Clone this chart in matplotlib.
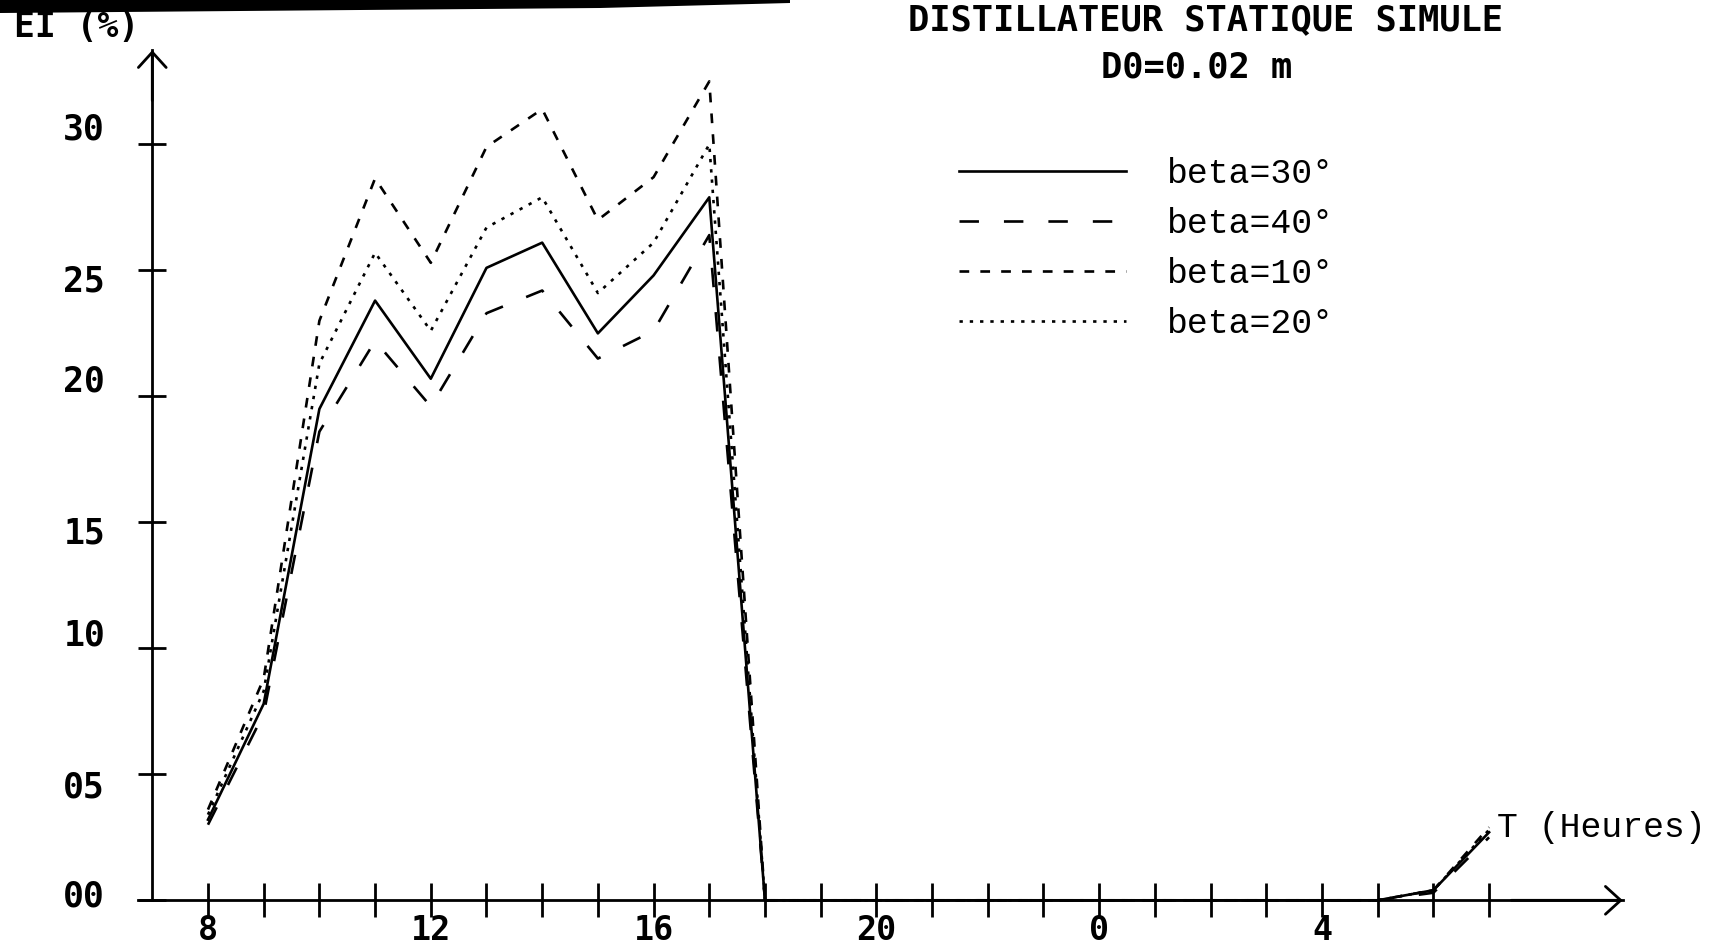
import matplotlib
matplotlib.use("Agg")
import matplotlib.pyplot as plt
from matplotlib.patches import Polygon
from matplotlib.transforms import ScaledTranslation

plt.rcParams['lines.scale_dashes'] = False
plt.rcParams['font.family'] = ['DejaVu Sans Mono', 'DejaVu Sans']
plt.rcParams['font.weight'] = 'bold'

# ---- data: hourly efficiency (%) from 8h to 7h next morning ----
hours = [8, 9, 10, 11, 12, 13, 14, 15, 16, 17, 18, 19, 20, 21, 22, 23,
         24, 25, 26, 27, 28, 29, 30, 31]
beta30 = [3.2, 7.8, 19.5, 23.8, 20.7, 25.1, 26.1, 22.5, 24.8, 27.9, 0.0, 0.0,
          0.0, 0.0, 0.0, 0.0, 0.0, 0.0, 0.0, 0.0, 0.0, 0.0, 0.4, 2.7]
beta40 = [3.0, 7.4, 18.6, 22.2, 19.6, 23.3, 24.2, 21.5, 22.6, 26.4, 0.0, 0.0,
          0.0, 0.0, 0.0, 0.0, 0.0, 0.0, 0.0, 0.0, 0.0, 0.0, 0.3, 2.5]
beta10 = [3.6, 8.8, 23.0, 28.65, 25.3, 29.9, 31.4, 27.0, 28.7, 32.5, 0.0, 0.0,
          0.0, 0.0, 0.0, 0.0, 0.0, 0.0, 0.0, 0.0, 0.0, 0.0, 0.4, 2.9]
beta20 = [3.4, 8.3, 21.3, 25.7, 22.6, 26.7, 27.9, 24.1, 26.1, 30.0, 0.0, 0.0,
          0.0, 0.0, 0.0, 0.0, 0.0, 0.0, 0.0, 0.0, 0.0, 0.0, 0.4, 2.8]
series_labels = ['beta=30°', 'beta=40°', 'beta=10°', 'beta=20°']

x_label_hours = [8, 12, 16, 20, 24, 28]
x_label_text = ['8', '12', '16', '20', '0', '4']
y_ticks = [0, 5, 10, 15, 20, 25, 30]
y_tick_text = ['00', '05', '10', '15', '20', '25', '30']

title = 'DISTILLATEUR STATIQUE SIMULE'
subtitle = 'D0=0.02 m'
y_name = 'EI (%)'
x_name = 'T (Heures)'

# ---- figure ----
W, H, DPI = 1710, 947, 100
fig = plt.figure(figsize=(W / DPI, H / DPI), dpi=DPI, facecolor='white')
ax = fig.add_axes([0, 0, 1, 1])
ax.patch.set_visible(False)
ax.set_xlim(4.266, 34.966)
ax.set_ylim(-1.853, 35.73)

styles = [
    dict(linestyle='-'),
    dict(linestyle=(0, (14, 18))),
    dict(linestyle=(0, (7, 8))),
    dict(linestyle=(0, (2.4, 5))),
]
data = [beta30, beta40, beta10, beta20]
handles = []
for vals, st, lab in zip(data, styles, series_labels):
    ln, = ax.plot(hours, vals, color='black', lw=1.9, label=lab, **st)
    handles.append(ln)

# ---- axes drawn as arrows through the origin ----
x_axis_start, x_axis_end = 6.75, 33.4
y_axis_x, y_axis_top = 7, 33.74
for side in ['top', 'right']:
    ax.spines[side].set_visible(False)
ax.spines['left'].set_position(('data', y_axis_x))
ax.spines['left'].set_bounds(0, y_axis_top)
ax.spines['bottom'].set_position(('data', 0))
ax.spines['bottom'].set_bounds(x_axis_start, x_axis_end)
for side in ['left', 'bottom']:
    ax.spines[side].set_linewidth(2.0)

arrow_kw = dict(arrowstyle='->,head_length=0.55,head_width=0.5', lw=2.0,
                color='black', shrinkA=0, shrinkB=0, mutation_scale=20)
ax.annotate('', xy=(y_axis_x, y_axis_top), xytext=(y_axis_x, y_axis_top - 2),
            arrowprops=arrow_kw)
ax.annotate('', xy=(x_axis_end, 0), xytext=(x_axis_end - 2, 0),
            arrowprops=arrow_kw)

# ---- ticks ----
ax.set_xticks(hours)
ax.set_xticklabels([x_label_text[x_label_hours.index(h)] if h in x_label_hours else ''
                    for h in hours])
ax.tick_params(axis='x', direction='inout', length=24, width=2.0, pad=-2,
               labelsize=24)
ax.set_yticks(y_ticks)
ax.set_yticklabels(y_tick_text)
ax.tick_params(axis='y', direction='inout', length=20, width=2.0, pad=24,
               labelsize=25)
# plotter-style vertical placement of the y labels (pixels, up positive)
y_label_shift = [7, -10, 16, -8, 18, -8, 18]
for lbl, dy in zip(ax.get_yticklabels(), y_label_shift):
    lbl.set_transform(lbl.get_transform() + ScaledTranslation(0, dy / DPI, fig.dpi_scale_trans))

# ---- texts ----
fig.text(1206 / W, 1 - 20 / H, title, ha='center', va='center', fontsize=25.5,
         weight='bold')
fig.text(1197 / W, 1 - 67 / H, subtitle, ha='center', va='center', fontsize=25.5,
         weight='bold')
fig.text(14 / W, 1 - 27 / H, y_name, ha='left', va='center', fontsize=25,
         weight='bold')
fig.text(1497 / W, 1 - 827 / H, x_name, ha='left', va='center', fontsize=25,
         family='Liberation Mono', weight='normal')

ax.legend(handles=handles, loc='upper left',
          bbox_to_anchor=(959 / W, 1 - 157 / H), bbox_transform=fig.transFigure,
          frameon=False, prop=dict(family='Liberation Mono', size=25, weight='normal'),
          handlelength=4.8, handletextpad=1.2, labelspacing=0.49,
          borderpad=0, borderaxespad=0)

# dark edge along the top of the sheet
fig.patches.append(Polygon([(0, 1), (790 / W, 1), (790 / W, 1 - 3 / H),
                            (600 / W, 1 - 8 / H), (0, 1 - 13 / H)],
                           closed=True, transform=fig.transFigure,
                           facecolor='black', edgecolor='none', zorder=10))

fig.savefig('out.png', dpi=DPI, facecolor='white')
